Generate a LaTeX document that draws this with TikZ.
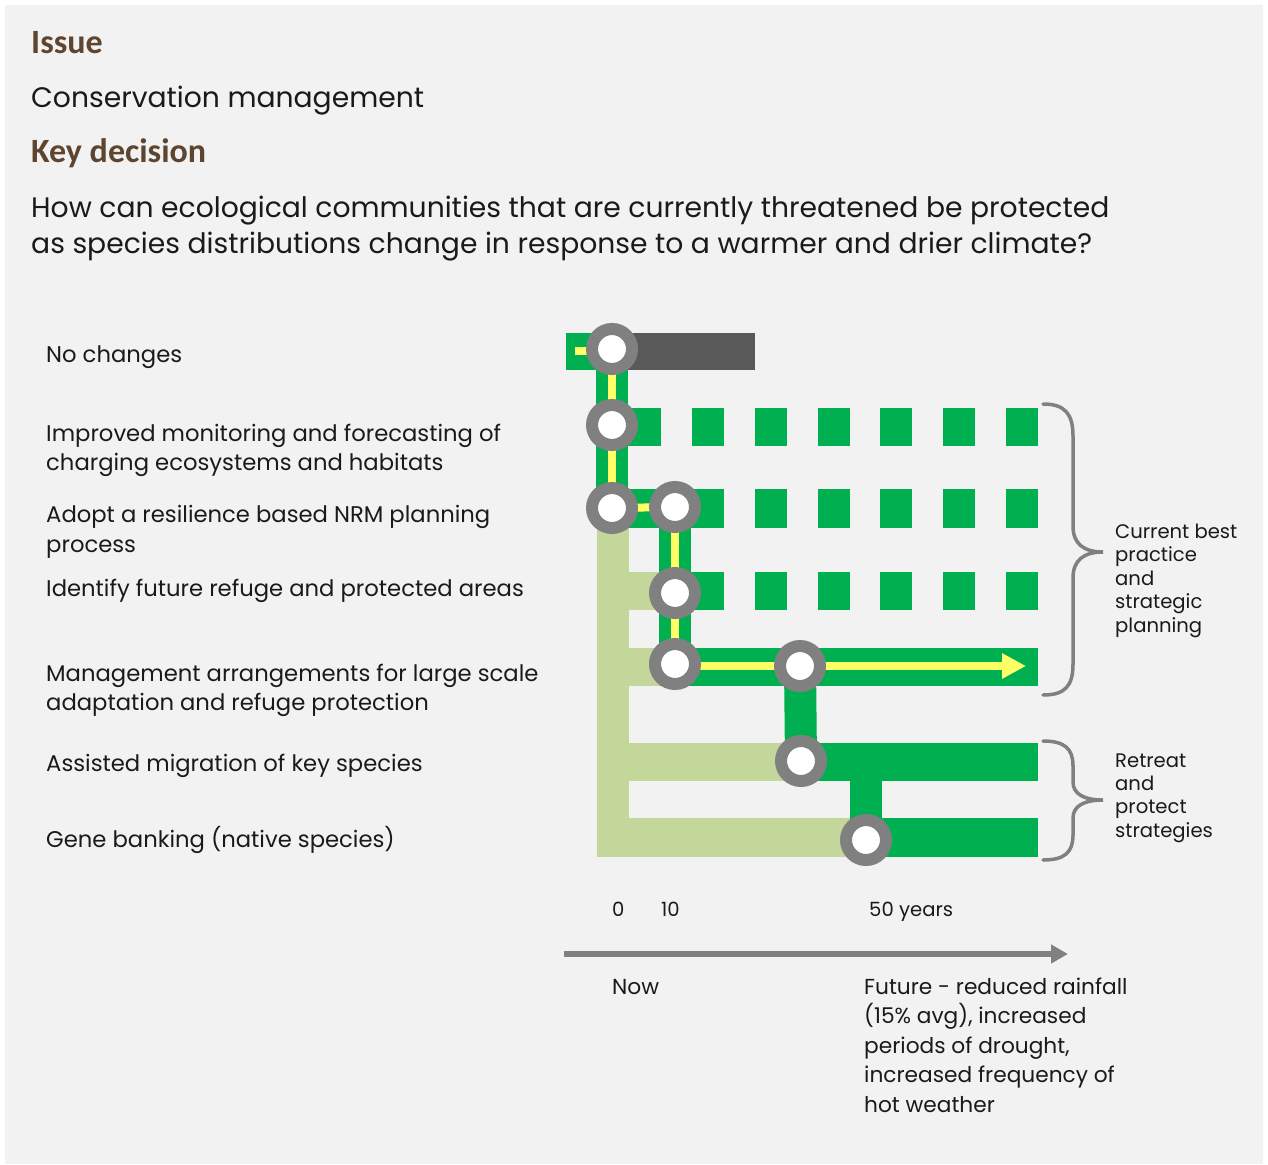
\documentclass[tikz,border=0pt]{standalone}
\usepackage{fontspec}
\setmainfont{Poppins}
\newfontfamily\headfont{Carlito}
\usetikzlibrary{arrows.meta}
\definecolor{bggray}{HTML}{F2F2F2}
\definecolor{mgreen}{HTML}{00B050}
\definecolor{lgreen}{HTML}{C4D79B}
\definecolor{myellow}{HTML}{FFFF66}
\definecolor{cgray}{HTML}{808080}
\definecolor{dgray}{HTML}{595959}
\definecolor{hbrown}{RGB}{94,69,48}
\definecolor{txt}{HTML}{1A1A1A}
\pgfdeclarelayer{bglayer}
\pgfdeclarelayer{midlayer}
\pgfdeclarelayer{ylayer}
\pgfsetlayers{bglayer,midlayer,ylayer,main}
\tikzset{
  stn/.style={circle, draw=cgray, fill=white, line width=12pt, minimum size=40pt, inner sep=0pt},
  txtbase/.style={anchor=base west, inner sep=0pt, text=txt},
  head/.style={txtbase, text=hbrown, font=\headfont\bfseries\fontsize{34}{40}\selectfont},
  title/.style={txtbase, font=\fontsize{28.2}{36}\selectfont},
  lbl/.style={txtbase, font=\fontsize{22.7}{29}\selectfont},
  flbl/.style={txtbase, font=\fontsize{21.7}{29}\selectfont},
  blbl/.style={txtbase, font=\fontsize{19.6}{24}\selectfont},
  gband/.style={mgreen, line width=32pt},
  yline/.style={myellow, line width=8pt},
  brace/.style={draw=cgray, line width=3.5pt, line cap=round},
  axisarrow/.style={cgray, line width=6pt, -{Triangle[length=17pt,width=18pt]}},
}
\begin{document}
\begin{tikzpicture}[x=1pt,y=-1pt]
\useasboundingbox (0,0) rectangle (1268,1164);
% stations
\node[stn] (c1) at (612,349) {};
\node[stn] (c2) at (612,425) {};
\node[stn] (c3) at (612,508) {};
\node[stn] (c4) at (675,507) {};
\node[stn] (c5) at (675,593) {};
\node[stn] (c6) at (675,664) {};
\node[stn] (c7) at (800,666) {};
\node[stn] (c8) at (801,761) {};
\node[stn] (c9) at (866,840) {};
\coordinate (y0) at (575,351);
\coordinate (yend) at (1026,666);
\coordinate (ax0) at (564,954);
\coordinate (ax1) at (1068,954);
\begin{pgfonlayer}{bglayer}
  \fill[white] (0,0) rectangle (1268,1164);
  \fill[bggray] (5,5) rectangle (1263,1164);
\end{pgfonlayer}
\begin{pgfonlayer}{midlayer}
  % row 1
  \fill[mgreen] (566,333) rectangle (612,370);
  \fill[dgray] (612,333) rectangle (755,370);
  % light green network
  \fill[lgreen] (597,520) rectangle (629,857);
  \fill[lgreen] (629,572) rectangle (662,610);
  \fill[lgreen] (629,648) rectangle (662,686);
  \fill[lgreen] (629,743) rectangle (790,781);
  \fill[lgreen] (629,818) rectangle (866,857);
  % trunks
  \draw[gband] (c1.center) -- (c3.center);
  \draw[gband] (c4.center) -- (c6.center);
  \draw[gband] (c7.center) -- (c8.center);
  \draw[gband] (c8.center -| c9.center) -- (c9.center);
  % row 2
  \fill[mgreen] (597,408) rectangle (661,446);
  \foreach \x in {692,755,818,880,943,1006} \fill[mgreen] (\x,408) rectangle (\x+32,446);
  % row 3
  \fill[mgreen] (597,489) rectangle (724,528);
  \foreach \x in {755,818,880,943,1006} \fill[mgreen] (\x,489) rectangle (\x+32,528);
  % row 4
  \fill[mgreen] (660,572) rectangle (724,610);
  \foreach \x in {755,818,880,943,1006} \fill[mgreen] (\x,572) rectangle (\x+32,610);
  % row 5
  \fill[mgreen] (660,648) rectangle (1038,686);
  % row 6
  \fill[mgreen] (790,743) rectangle (1038,781);
  % row 7
  \fill[mgreen] (866,818) rectangle (1038,857);
\end{pgfonlayer}
\begin{pgfonlayer}{ylayer}
  \draw[yline] (y0) -- (y0 -| c1.center);
  \draw[yline] (c1.center) -- (c3.center);
  \draw[yline] (c3.center) -- (c4.center);
  \draw[yline] (c4.center) -- (c6.center);
  \draw[yline, -{Triangle[length=24pt,width=24pt]}] (c6.center |- yend) -- (yend);
\end{pgfonlayer}
% braces
\draw[brace] (1043,404) .. controls (1065,404) and (1073,414) .. (1073,436) -- (1073,526)
  .. controls (1073,544) and (1084,552) .. (1103,552)
  .. controls (1084,552) and (1073,560) .. (1073,578) -- (1073,664)
  .. controls (1073,686) and (1065,695) .. (1043,695);
\draw[brace] (1043,741) .. controls (1065,741) and (1073,749) .. (1073,766) -- (1073,782)
  .. controls (1073,794) and (1084,800) .. (1103,800)
  .. controls (1084,800) and (1073,806) .. (1073,818) -- (1073,835)
  .. controls (1073,852) and (1065,860) .. (1043,860);
% axis
\draw[axisarrow] (ax0) -- (ax1);
% header texts
\node[head] (h1) at (31,54) {Issue};
\node[title] (t1) at (31,107) {Conservation management};
\node[head] (h2) at (31,162) {Key decision};
\node[title] (q1) at (31,217) {How can ecological communities that are currently threatened be protected};
\node[title] (q2) at (31,253) {as species distributions change in response to a warmer and drier climate?};
% left labels
\node[lbl] (l1) at (46,362) {No changes};
\node[lbl] (l2a) at (46,441) {Improved monitoring and forecasting of};
\node[lbl] (l2b) at (46,470) {charging ecosystems and habitats};
\node[lbl] (l3a) at (46,522) {Adopt a resilience based NRM planning};
\node[lbl] (l3b) at (46,552) {process};
\node[lbl] (l4) at (46,596) {Identify future refuge and protected areas};
\node[lbl] (l5a) at (46,681) {Management arrangements for large scale};
\node[lbl] (l5b) at (46,710) {adaptation and refuge protection};
\node[lbl] (l6) at (46,771) {Assisted migration of key species};
\node[lbl] (l7) at (46,847) {Gene banking (native species)};
% brace labels
\node[blbl] (b1a) at (1115,538) {Current best};
\node[blbl] (b1b) at (1115,561) {practice};
\node[blbl] (b1c) at (1115,585) {and};
\node[blbl] (b1d) at (1115,608) {strategic};
\node[blbl] (b1e) at (1115,632) {planning};
\node[blbl] (b2a) at (1115,767) {Retreat};
\node[blbl] (b2b) at (1115,790) {and};
\node[blbl] (b2c) at (1115,813) {protect};
\node[blbl] (b2d) at (1115,837) {strategies};
% axis labels
\node[blbl] (a0) at (612,916) {0};
\node[blbl] (a10) at (661,916) {10};
\node[blbl] (a50) at (869,916) {50 years};
\node[flbl] (now) at (612,994) {Now};
\node[flbl] (f1) at (864,994) {Future - reduced rainfall};
\node[flbl] (f2) at (864,1023) {(15\% avg), increased};
\node[flbl] (f3) at (864,1053) {periods of drought,};
\node[flbl] (f4) at (864,1082) {increased frequency of};
\node[flbl] (f5) at (864,1112) {hot weather};
\end{tikzpicture}
\end{document}
